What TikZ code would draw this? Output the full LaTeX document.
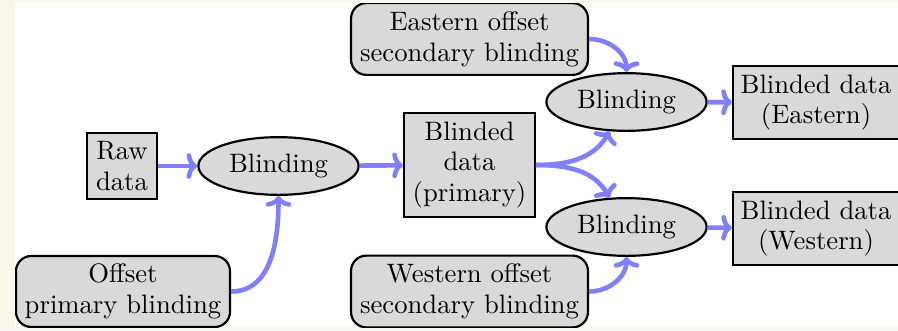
\documentclass[tikz,border=0pt]{standalone}
\usetikzlibrary{arrows.meta,shapes.geometric}
\definecolor{cream}{RGB}{251,246,236}
\definecolor{flow}{RGB}{128,128,255}
\begin{document}
\begin{tikzpicture}[x=0.39pt,y=-0.39pt,
  base/.style={draw=black,line width=0.85pt,fill=gray!30,align=center,inner sep=0pt,font=\fontsize{10.4}{12}\selectfont},
  databox/.style={base,rectangle},
  roundbox/.style={base,rectangle,rounded corners=6pt},
  blindell/.style={base,ellipse,minimum width=62.5pt,minimum height=22.5pt},
  flowarrow/.style={draw=flow,line width=1.8pt,-{To[length=4.2pt,width=10pt]}}]
\useasboundingbox (0,0) rectangle (898,330);
\fill[cream] (0,0) rectangle (898,330);
\fill[white] (15,3) rectangle (898,327);
\begin{scope}
\clip (15,3) rectangle (898,327);
\node[databox,minimum width=27.3pt,minimum height=25.7pt] (raw) at (122,166) {Raw\\data};
\node[blindell] (b1) at (278.5,166) {Blinding};
\node[roundbox,minimum width=83.5pt,minimum height=27.7pt] (offp) at (123,291.5) {Offset\\primary blinding};
\node[roundbox,minimum width=92.4pt,minimum height=28pt] (offe) at (469.5,39) {Eastern offset\\secondary blinding};
\node[databox,minimum width=51pt,minimum height=40.6pt] (prim) at (469.5,165) {Blinded\\data\\(primary)};
\node[roundbox,minimum width=92.4pt,minimum height=28pt] (offw) at (469.5,291.5) {Western offset\\secondary blinding};
\node[blindell] (be) at (626.5,102) {Blinding};
\node[blindell] (bw) at (626.5,227) {Blinding};
\node[databox,minimum width=64.7pt,minimum height=28.5pt] (de) at (816,102.5) {Blinded data\\(Eastern)};
\node[databox,minimum width=64.7pt,minimum height=28.5pt] (dw) at (816,228.5) {Blinded data\\(Western)};
\end{scope}
\draw[flowarrow] (raw) -- (b1);
\draw[flowarrow] (offp.east) to[out=0,in=-90] (b1.south);
\draw[flowarrow] (b1) -- (prim);
\draw[flowarrow] (prim.east) to[out=0,in=-120] (be);
\draw[flowarrow] (prim.east) to[out=0,in=120] (bw);
\draw[flowarrow] (offe.east) to[out=0,in=90] (be.north);
\draw[flowarrow] (offw.east) to[out=0,in=-90] (bw.south);
\draw[flowarrow] (be) -- (de);
\draw[flowarrow] (bw) -- (dw);
\end{tikzpicture}
\end{document}
